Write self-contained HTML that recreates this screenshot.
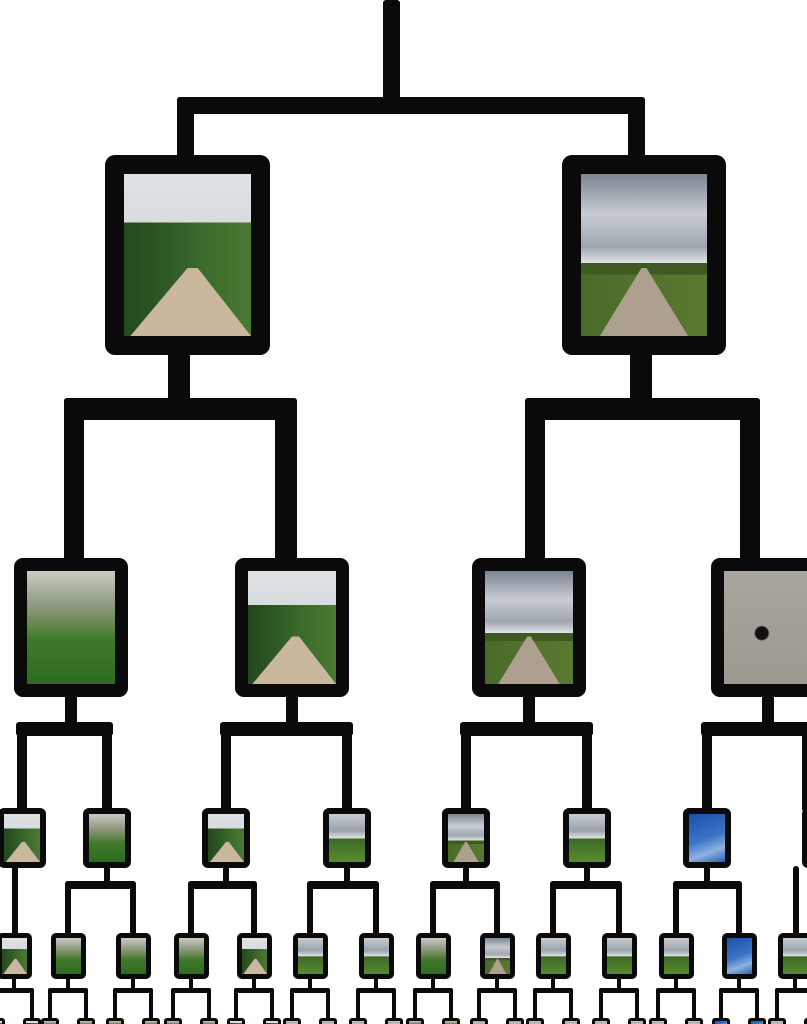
<!DOCTYPE html>
<html><head><meta charset="utf-8"><style>
html,body{margin:0;padding:0;background:#fff;width:807px;height:1024px;overflow:hidden;position:relative}
.l{position:absolute;background:#0a0a0a;border-radius:3px}
.b{position:absolute;background:#0a0a0a;box-sizing:border-box}
.p{position:absolute;left:0;top:0;right:0;bottom:0;overflow:hidden}
.rd{position:absolute;left:0;top:0;width:100%;height:100%}
</style></head><body>
<script>
function L(x1,y1,x2,y2){const d=document.createElement('div');d.className='l';d.style.left=x1+'px';d.style.top=y1+'px';d.style.width=(x2-x1)+'px';d.style.height=(y2-y1)+'px';document.body.appendChild(d);}
const P={
road:'linear-gradient(180deg,#dfe2e4 0%,#d8dcde 30%,transparent 30%),linear-gradient(90deg,#24481c 0%,#2f5a25 35%,#3b6a2c 60%,#4a7a32 100%)',
cloud:'linear-gradient(180deg,#7d8592 0%,#c8ccd2 25%,#a0a6b0 45%,#e2e4e6 55%,transparent 55%),linear-gradient(180deg,transparent 55%,#3e5a22 55%,#3e5a22 62%,transparent 62%),linear-gradient(90deg,#4a6a2a 0%,#5a7a30 100%)',
forest:'linear-gradient(180deg,#c9ccc4 0%,#8e9a80 30%,#6f8a55 45%,#3f7a2a 60%,#2f6a22 100%)',
beetle:'radial-gradient(circle at 45% 55%,#111 0,#111 8%,transparent 10%),linear-gradient(#a9a59e,#9d998f)',
blue:'linear-gradient(160deg,#1d4fa8 0%,#3a74c8 50%,#8fb2e0 75%,#2a5fb5 100%)',
field:'linear-gradient(180deg,#c8ccd0 0%,#9aa2aa 35%,#e0e2e4 50%,#3d6a26 52%,#5a8a30 100%)'
};
const ROAD={road:['#c9b89e','polygon(50% 58%,58% 58%,100% 100%,5% 100%)'],cloud:['#ada08e','polygon(48% 58%,52% 58%,85% 100%,15% 100%)']};
function B(x,y,w,h,bw,t,r){const d=document.createElement('div');d.className='b';d.style.left=x+'px';d.style.top=y+'px';d.style.width=w+'px';d.style.height=h+'px';d.style.borderRadius=(r||bw/2+2)+'px';
const p=document.createElement('div');p.className='p';p.style.left=bw+'px';p.style.top=bw+'px';p.style.right=bw+'px';p.style.bottom=bw+'px';p.style.background=P[t];
if(ROAD[t]){const q=document.createElement('div');q.className='rd';q.style.background=ROAD[t][0];q.style.clipPath=ROAD[t][1];p.appendChild(q);}
d.appendChild(p);document.body.appendChild(d);}
L(383,0,400,108);L(177,97,645,114);L(177,97,194,165);L(628,97,645,165);
L(168,345,190,410);L(64,398,297,420);L(64,398,84,565);L(275,398,297,565);
L(630,345,652,410);L(525,398,760,420);L(525,398,545,565);L(740,398,760,565);
B(105,155,165,200,19,'road',10);B(562,155,164,200,19,'cloud',10);
const l2=[[14,'forest',22,107],[235,'road',226,347],[472,'cloud',466,587],[711,'beetle',707,807]];
l2.forEach(a=>{const cx=a[0]+57;L(cx-6,690,cx+6,730);L(a[2]-6,722,a[3]+6,736);L(a[2]-5,722,a[2]+5,812);L(a[3]-5,722,a[3]+5,812);});
l2.forEach(a=>B(a[0],558,a==l2[3]?110:114,139,13,a[1],9));
const l3=[[22,'road',[14]],[107,'forest',[68,133]],[226,'road',[191,254]],[347,'field',[310,376]],[466,'cloud',[433,497]],[587,'field',[553,619]],[707,'blue',[676,739]],[826,'field',[795]]];
l3.forEach(a=>{const c=a[0],k=a[2];if(k.length==1){L(k[0]-2,866,k[0]+4,936);}else{L(c-3,866,c+3,886);L(k[0]-3,881,k[1]+3,889);L(k[0]-3,881,k[0]+3,936);L(k[1]-3,881,k[1]+3,936);}});
l3.forEach(a=>B(a[0]-24,808,48,60,6,a[1],6));
const l4=[[14,'road'],[68,'forest'],[133,'forest'],[191,'forest'],[254,'road'],[310,'field'],[376,'field'],[433,'forest'],[497,'cloud'],[553,'field'],[619,'field'],[676,'field'],[739,'blue'],[795,'field']];
l4.forEach(a=>{const c=a[0];L(c-2,975,c+2,993);L(c-20,988,c+20,993);L(c-20,988,c-16,1024);L(c+16,988,c+20,1024);});
l4.forEach(a=>B(a[0]-17,933,35,46,5,a[1],5));
l4.forEach(a=>{B(a[0]-27,1018,18,12,3,a[1],3);B(a[0]+9,1018,18,12,3,a[1],3);});
</script>
</body></html>
